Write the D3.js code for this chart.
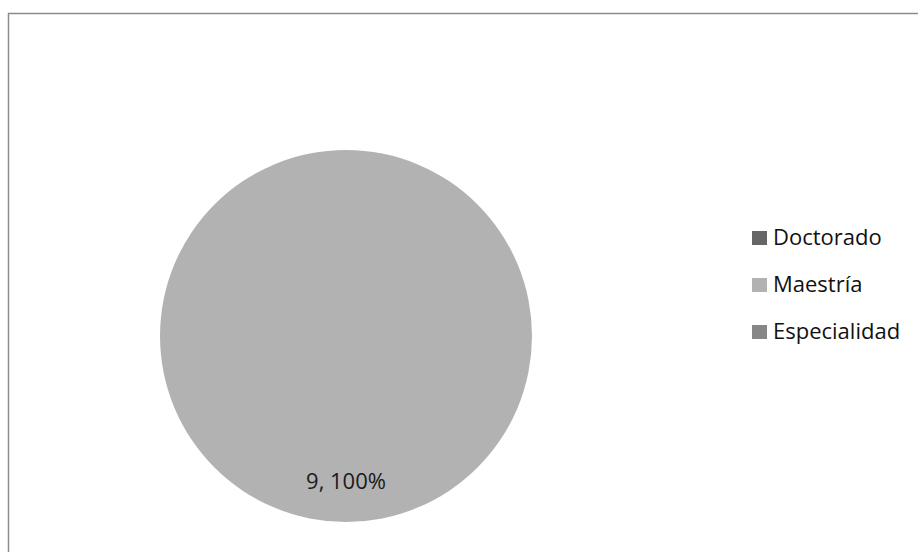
<!DOCTYPE html>
<html>
<head>
<meta charset="utf-8">
<script src="https://cdn.jsdelivr.net/npm/d3@7"></script>
<style>
  body { margin: 0; background: #fff; }
  svg { display: block; font-family: "Open Sans", "Noto Sans", sans-serif; }
</style>
</head>
<body>
<div id="chart"></div>
<script>
/* categories and values */
var categories = ["Doctorado", "Maestría", "Especialidad"];
var values = [0, 9, 0];
var colors = ["#666666", "#b2b2b2", "#878787"];

var width = 918, height = 552;
var cx = 346, cy = 336, radius = 186;

var svg = d3.select("#chart").append("svg")
    .attr("width", width)
    .attr("height", height);

/* chart area frame */
svg.append("rect")
    .attr("x", 8.5).attr("y", 13.5)
    .attr("width", width).attr("height", height)
    .attr("fill", "#fff")
    .attr("stroke", "#8c8c8c")
    .attr("stroke-width", 1.5);

var data = categories.map(function(c, i) { return {name: c, value: values[i], color: colors[i]}; });
var total = d3.sum(values);

var pie = d3.pie().sort(null).value(function(d) { return d.value; });
var arc = d3.arc().innerRadius(0).outerRadius(radius);

var g = svg.append("g").attr("transform", "translate(" + cx + "," + cy + ")");

var slices = pie(data).filter(function(d) { return d.value > 0; });

g.selectAll("path")
    .data(slices)
  .enter().append("path")
    .attr("d", arc)
    .attr("fill", function(d) { return d.data.color; });

/* data labels: a full slice gets its label near the bottom, like the original */
g.selectAll("text.label")
    .data(slices)
  .enter().append("text")
    .attr("class", "label")
    .attr("text-anchor", "middle")
    .attr("font-size", 22)
    .attr("fill", "#1a1a1a")
    .attr("transform", function(d) {
        if (d.endAngle - d.startAngle >= 2 * Math.PI - 1e-6) return "translate(0," + (radius * 0.825) + ")";
        return "translate(" + arc.centroid(d) + ")";
    })
    .text(function(d) { return d.value + ", " + Math.round(100 * d.value / total) + "%"; });

/* legend */
var legend = svg.append("g").attr("transform", "translate(752,231)");
var row = legend.selectAll("g")
    .data(data)
  .enter().append("g")
    .attr("transform", function(d, i) { return "translate(0," + (i * 47) + ")"; });

row.append("rect")
    .attr("width", 15).attr("height", 14)
    .attr("fill", function(d) { return d.color; });

row.append("text")
    .attr("x", 21).attr("y", 14)
    .attr("font-size", 22)
    .attr("fill", "#111")
    .text(function(d) { return d.name; });
</script>
</body>
</html>
